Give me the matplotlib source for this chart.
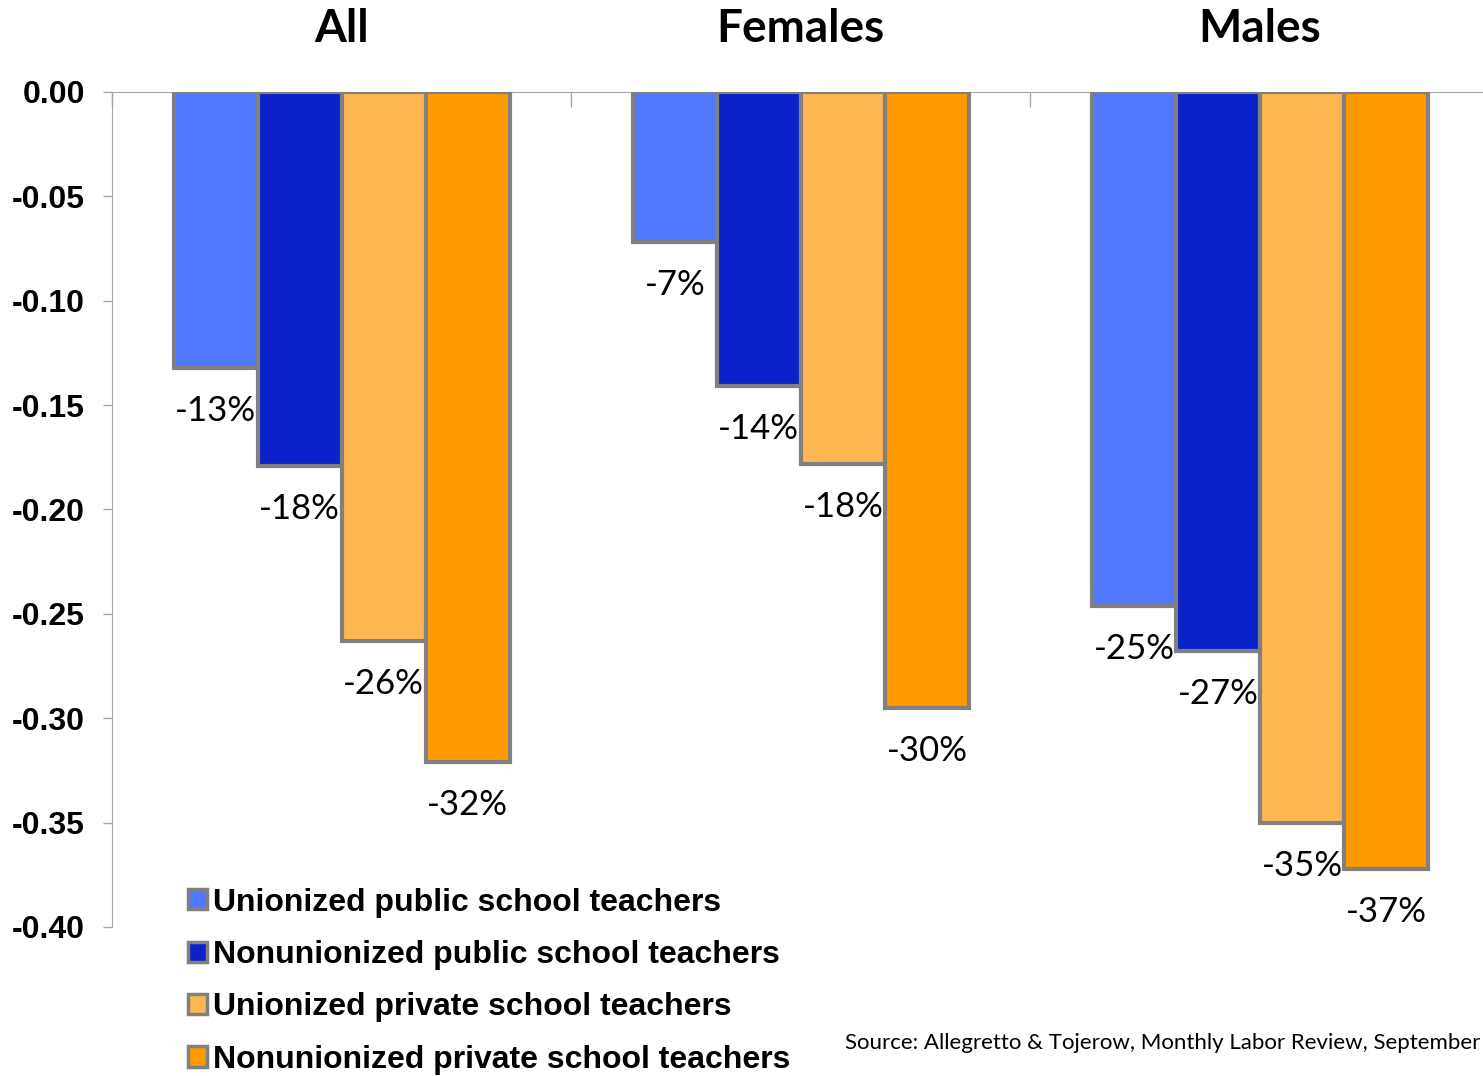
import numpy as np
import matplotlib
matplotlib.use("Agg")
import matplotlib.pyplot as plt

# Data
groups = ["All", "Females", "Males"]
series = ["Unionized public school teachers",
          "Nonunionized public school teachers",
          "Unionized private school teachers",
          "Nonunionized private school teachers"]
union_public = [-0.132, -0.072, -0.246]
nonunion_public = [-0.179, -0.141, -0.268]
union_private = [-0.263, -0.178, -0.350]
nonunion_private = [-0.321, -0.295, -0.372]
pct_labels = [["-13%", "-7%", "-25%"],
              ["-18%", "-14%", "-27%"],
              ["-26%", "-18%", "-35%"],
              ["-32%", "-30%", "-37%"]]
yticks = [0.0, -0.05, -0.10, -0.15, -0.20, -0.25, -0.30, -0.35, -0.40]
source = "Source: Allegretto & Tojerow, Monthly Labor Review, September"

colors = ["#4F78FF", "#0A22C8", "#FFB752", "#FF9900"]
edge = "#808080"
axis_gray = "#A6A6A6"

fig = plt.figure(figsize=(14.83, 10.76), dpi=100)
ax = fig.add_axes([0.0755, 0.1385, 0.929, 0.776])

x = np.arange(len(groups))
w = 0.183
allvals = [union_public, nonunion_public, union_private, nonunion_private]
handles = []
for i, vals in enumerate(allvals):
    off = (i - 1.5) * w
    b = ax.bar(x + off, vals, w, color=colors[i], edgecolor=edge, linewidth=3,
               label=series[i], zorder=3)
    handles.append(b)
    for j, v in enumerate(vals):
        ax.annotate(pct_labels[i][j], (x[j] + off, v), xytext=(0, -31),
                    textcoords="offset points", ha="center", va="center",
                    fontsize=25, family="Lato")

# group names above the zero line
for j, g in enumerate(groups):
    ax.annotate(g, (x[j], 0), xytext=(0, 36), textcoords="offset points",
                ha="center", va="baseline", fontsize=33, fontweight="bold",
                family="Lato", annotation_clip=False)

ax.set_xlim(-0.5, 2.5)
ax.set_ylim(-0.40, 0.0)
ax.set_yticks(yticks)
ax.set_yticklabels(["%.2f" % t for t in yticks], fontsize=23, fontweight="bold",
                   family="Liberation Sans")
ax.tick_params(axis="y", length=6.5, width=1, color=axis_gray, pad=13)

# boundary ticks on the zero line
ax.set_xticks([-0.5, 0.5, 1.5, 2.5])
ax.set_xticklabels([])
ax.tick_params(axis="x", direction="out", length=11, width=1, color=axis_gray)
ax.spines["bottom"].set_position(("data", 0))
ax.spines["bottom"].set_color(axis_gray)
ax.spines["left"].set_color(axis_gray)
ax.spines["top"].set_visible(False)
ax.spines["right"].set_visible(False)

leg = ax.legend(handles=handles, loc="upper left", bbox_to_anchor=(0.118, 0.187),
                bbox_transform=fig.transFigure, frameon=False,
                prop={"family": "Liberation Sans", "weight": "bold", "size": 23},
                handlelength=0.6, handleheight=0.6, handletextpad=0.2,
                labelspacing=0.7, borderaxespad=0)
for p in leg.get_patches():
    p.set_linewidth(2.5)

fig.text(0.57, 0.031, source, fontsize=16, family="Lato", va="center", ha="left")

fig.savefig("out.png", dpi=100)
